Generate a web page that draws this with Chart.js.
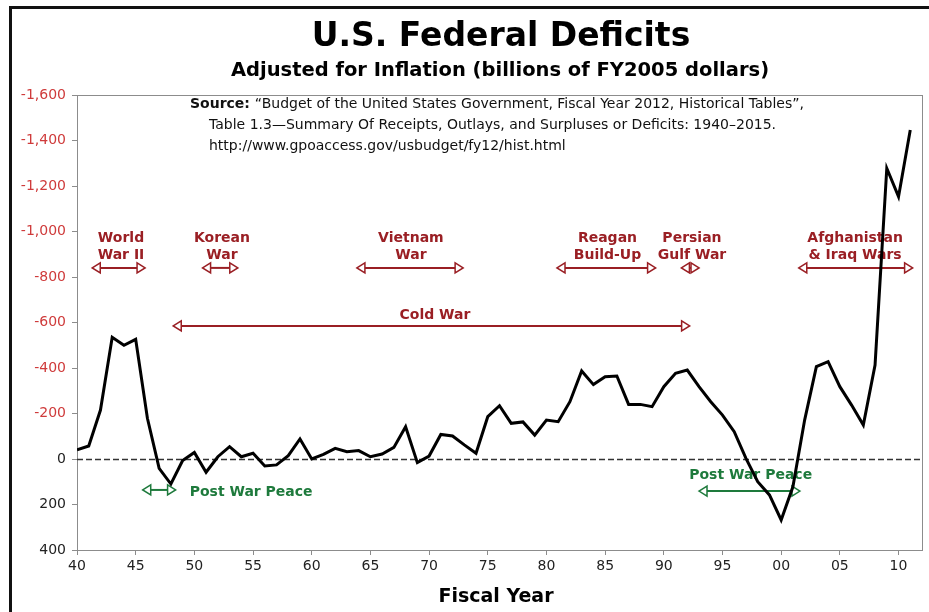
<!DOCTYPE html>
<html>
<head>
<meta charset="utf-8">
<title>U.S. Federal Deficits</title>
<script src="https://cdn.jsdelivr.net/npm/chart.js@4.4.1/dist/chart.umd.min.js"></script>
<style>
  html, body { margin: 0; padding: 0; background: #fff; }
  canvas { display: block; }
</style>
</head>
<body>
<canvas id="deficitChart" width="929" height="612"></canvas>
<script>
// fiscal years and inflation-adjusted deficits (billions FY2005 $), deficit plotted negative
const years = [];
for (let y = 1940; y <= 2011; y++) years.push(y);
const deficits = [
  -40, -57, -215, -535, -500, -526, -179, 41, 110, 7,
  -29, 58, -10, -54, -10, -25, 31, 26, -15, -88,
  0, -20, -47, -32, -37, -10, -22, -51, -142, 16,
  -13, -108, -101, -62, -25, -186, -234, -157, -163, -105,
  -171, -164, -252, -387, -327, -362, -365, -240, -240, -230,
  -318, -377, -391, -318, -252, -193, -120, -3, 100, 158,
  268, 122, -171, -406, -428, -318, -237, -149, -413, -1278,
  -1153, -1446
];
const yTicks = [-1600, -1400, -1200, -1000, -800, -600, -400, -200, 0, 200, 400];

// period annotations: label lines, text centre year, arrow span (years)
const periods = [
  { lines: ['World', 'War II'], at: 1943.75, from: 1941.3, to: 1945.8 },
  { lines: ['Korean', 'War'], at: 1952.35, from: 1950.7, to: 1953.7 },
  { lines: ['Vietnam', 'War'], at: 1968.45, from: 1963.85, to: 1972.9 },
  { lines: ['Reagan', 'Build-Up'], at: 1985.2, from: 1980.9, to: 1989.3 },
  { lines: ['Persian', 'Gulf War'], at: 1992.4, from: 1991.5, to: 1993.0 },
  { lines: ['Afghanistan', '& Iraq Wars'], at: 2006.3, from: 2001.5, to: 2011.2 }
];

const RED = '#9a1f24';
const GREEN = '#1e7a3c';
const FONT = '"DejaVu Sans", Verdana, sans-serif';

function arrow(ctx, x1, x2, y, color){
  const h = 8, w = 5;
  ctx.save();
  ctx.strokeStyle = color;
  ctx.fillStyle = '#fff';
  ctx.lineWidth = 2;
  ctx.beginPath(); ctx.moveTo(x1 + h, y); ctx.lineTo(x2 - h, y); ctx.stroke();
  ctx.lineWidth = 1.5;
  [[x1, 1], [x2, -1]].forEach(([x, d]) => {
    ctx.beginPath();
    ctx.moveTo(x, y);
    ctx.lineTo(x + d * h, y - w);
    ctx.lineTo(x + d * h, y + w);
    ctx.closePath();
    ctx.fill(); ctx.stroke();
  });
  ctx.restore();
}

const annotations = {
  id: 'annotations',
  beforeDatasetsDraw(chart){
    const { ctx, chartArea: a, scales: { x, y } } = chart;
    ctx.save();
    // frame round the plot area
    ctx.strokeStyle = '#8c8c8c';
    ctx.lineWidth = 1;
    ctx.strokeRect(a.left + 0.5, a.top + 0.5, a.right - a.left, a.bottom - a.top);
    // zero line
    const y0 = Math.round(y.getPixelForValue(0)) + 0.5;
    ctx.strokeStyle = '#333';
    ctx.lineWidth = 1.5;
    ctx.setLineDash([6, 3]);
    ctx.beginPath(); ctx.moveTo(a.left, y0); ctx.lineTo(a.right, y0); ctx.stroke();
    ctx.setLineDash([]);

    ctx.textAlign = 'center';
    ctx.textBaseline = 'middle';
    ctx.font = 'bold 14px ' + FONT;
    ctx.fillStyle = RED;
    periods.forEach(p => {
      ctx.fillText(p.lines[0], x.getPixelForValue(p.at), y.getPixelForValue(-971));
      ctx.fillText(p.lines[1], x.getPixelForValue(p.at), y.getPixelForValue(-897));
      arrow(ctx, x.getPixelForValue(p.from), x.getPixelForValue(p.to), y.getPixelForValue(-840), RED);
    });
    ctx.fillText('Cold War', x.getPixelForValue(1970.5), y.getPixelForValue(-633));
    arrow(ctx, x.getPixelForValue(1948.2), x.getPixelForValue(1992.2), y.getPixelForValue(-585), RED);

    ctx.fillStyle = GREEN;
    ctx.textAlign = 'left';
    ctx.fillText('Post War Peace', x.getPixelForValue(1949.6), y.getPixelForValue(145));
    arrow(ctx, x.getPixelForValue(1945.6), x.getPixelForValue(1948.4), y.getPixelForValue(136), GREEN);
    ctx.textAlign = 'center';
    ctx.fillText('Post War Peace', x.getPixelForValue(1997.4), y.getPixelForValue(70));
    arrow(ctx, x.getPixelForValue(1993.0), x.getPixelForValue(2001.6), y.getPixelForValue(141), GREEN);

    // source note
    ctx.textAlign = 'left';
    ctx.fillStyle = '#111';
    ctx.font = 'bold 14px ' + FONT;
    ctx.fillText('Source:', 190, 104);
    const sw = ctx.measureText('Source: ').width;
    ctx.font = '14px ' + FONT;
    ctx.fillText('\u201CBudget of the United States Government, Fiscal Year 2012, Historical Tables\u201D,', 190 + sw, 104);
    ctx.fillText('Table 1.3\u2014Summary Of Receipts, Outlays, and Surpluses or Deficits: 1940\u20132015.', 209, 125);
    ctx.fillText('http://www.gpoaccess.gov/usbudget/fy12/hist.html', 209, 146);
    ctx.restore();
  },
  afterDraw(chart){
    const { ctx } = chart;
    ctx.save();
    // outer black border (top and left)
    ctx.strokeStyle = '#111';
    ctx.lineWidth = 3;
    ctx.beginPath(); ctx.moveTo(929, 7.5); ctx.lineTo(10.5, 7.5); ctx.lineTo(10.5, 612); ctx.stroke();
    ctx.fillStyle = '#000';
    ctx.textAlign = 'center';
    ctx.textBaseline = 'middle';
    ctx.font = 'bold 33px ' + FONT;
    ctx.fillText('U.S. Federal Deficits', 501, 37);
    ctx.font = 'bold 19.5px ' + FONT;
    ctx.fillText('Adjusted for Inflation (billions of FY2005 dollars)', 500, 71);
    ctx.font = 'bold 19px ' + FONT;
    ctx.fillText('Fiscal Year', 496, 597);
    ctx.restore();
  }
};

new Chart(document.getElementById('deficitChart').getContext('2d'), {
  type: 'line',
  data: {
    datasets: [{
      label: 'Deficit',
      data: years.map((yr, i) => ({ x: yr, y: deficits[i] })),
      borderColor: '#000',
      borderWidth: 3,
      pointRadius: 0,
      tension: 0,
      fill: false
    }]
  },
  options: {
    responsive: false,
    animation: false,
    layout: { padding: { top: 95, right: 7, bottom: 0, left: 0 } },
    plugins: { legend: { display: false }, tooltip: { enabled: false }, title: { display: false } },
    scales: {
      x: {
        type: 'linear',
        min: 1940, max: 2012,
        afterFit(s){ s.height = 62; },
        grid: { display: true, drawOnChartArea: false, drawTicks: true, tickLength: 5, color: '#8c8c8c' },
        border: { color: '#8c8c8c' },
        ticks: {
          stepSize: 5, includeBounds: false, maxRotation: 0, autoSkip: false,
          color: '#222', font: { family: FONT, size: 14 },
          callback: v => String(v % 100).padStart(2, '0')
        }
      },
      y: {
        reverse: true,
        min: -1600, max: 400,
        afterFit(s){ s.width = 77; },
        afterBuildTicks(s){ s.ticks = yTicks.map(v => ({ value: v })); },
        grid: { display: true, drawOnChartArea: false, drawTicks: true, tickLength: 5, color: '#8c8c8c' },
        border: { color: '#8c8c8c' },
        ticks: {
          color: c => c.tick.value < 0 ? '#cf3b3b' : '#222',
          font: { family: FONT, size: 14 },
          padding: 6,
          callback: v => v.toLocaleString('en-US')
        }
      }
    }
  },
  plugins: [annotations]
});
</script>
</body>
</html>
